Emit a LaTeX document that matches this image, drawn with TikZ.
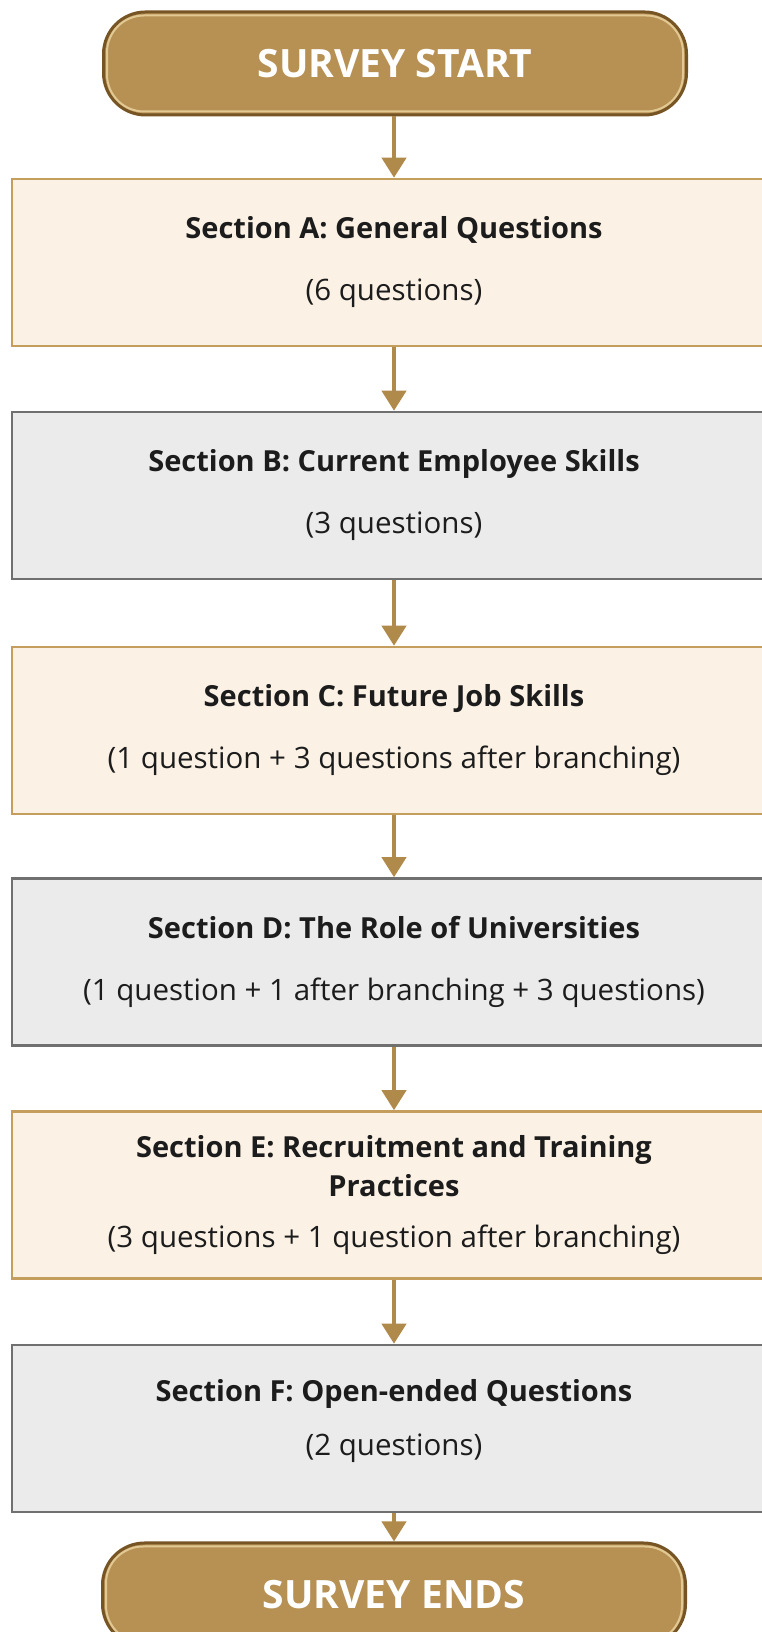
\documentclass[tikz,border=0pt]{standalone}
\usepackage{fontspec}
\setmainfont{Open Sans}
\newcommand\headfont{\fontsize{29}{34}\selectfont\bfseries}
\usetikzlibrary{arrows.meta}

\definecolor{goldfill}{RGB}{183,145,84}
\definecolor{goldrim}{RGB}{118,84,36}
\definecolor{goldlight}{RGB}{226,200,146}
\definecolor{creamfill}{RGB}{251,242,229}
\definecolor{creamline}{RGB}{196,158,92}
\definecolor{greyfill}{RGB}{235,235,235}
\definecolor{greyline}{RGB}{112,112,112}
\definecolor{arrowgold}{RGB}{176,138,74}
\definecolor{inktext}{RGB}{28,28,28}

\begin{document}
\begin{tikzpicture}[x=1pt, y=1pt,
		terminal/.style={draw=goldrim, line width=3pt, fill=goldfill, rounded corners=42pt,
			minimum width=583pt, minimum height=103pt, inner sep=0pt,
			text=white, font=\fontsize{39}{44}\selectfont\bfseries},
		sectionbox/.style={line width=2.5pt, minimum width=764pt, minimum height=167pt,
			inner sep=0pt, align=center, text=inktext, font=\fontsize{29.5}{34}\selectfont},
		creambox/.style={sectionbox, fill=creamfill, draw=creamline},
		greybox/.style={sectionbox, fill=greyfill, draw=greyline},
		flow/.style={draw=arrowgold, line width=4pt, -{Triangle[width=24pt, length=20pt, fill=arrowgold]}}]
	\useasboundingbox (0,0) rectangle (761,1632);
	\fill[white] (0,0) rectangle (761,1632);

	% start and end of the survey
	\node (start) at (395,1568.5) [terminal] {SURVEY START};
	\node (finish) at (394,37.5) [terminal] {SURVEY ENDS};
	\foreach \t in {start,finish}
		\draw [goldlight, line width=2pt, rounded corners=37pt]
			([shift={(5pt,5pt)}]\t.south west) rectangle ([shift={(-5pt,-5pt)}]\t.north east);

	% survey sections
	\node (secA) at (394,1369.5) [creambox] {{\headfont Section A: General Questions}\\[28pt](6 questions)};
	\node (secB) at (394,1136.5) [greybox] {{\headfont Section B: Current Employee Skills}\\[28pt](3 questions)};
	\node (secC) at (394,901.5) [creambox] {{\headfont Section C: Future Job Skills}\\[28pt](1 question + 3 questions after branching)};
	\node (secD) at (394,670) [greybox] {{\headfont Section D: The Role of Universities}\\[28pt](1 question + 1 after branching + 3 questions)};
	\node (secE) at (394,437) [creambox] {{\headfont Section E: Recruitment and Training}\\[5pt]{\headfont Practices}\\[17pt](3 questions + 1 question after branching)};
	\node (secF) at (394,203.5) [greybox] {{\headfont Section F: Open-ended Questions}\\[20pt](2 questions)\\[-12pt]\mbox{}};

	% arrows between the steps
	\foreach \u/\v in {start/secA, secA/secB, secB/secC, secC/secD, secD/secE, secE/secF, secF/finish}
		\draw [flow] (\u.south -| 394,0) -- (\v.north -| 394,0);
\end{tikzpicture}
\end{document}
